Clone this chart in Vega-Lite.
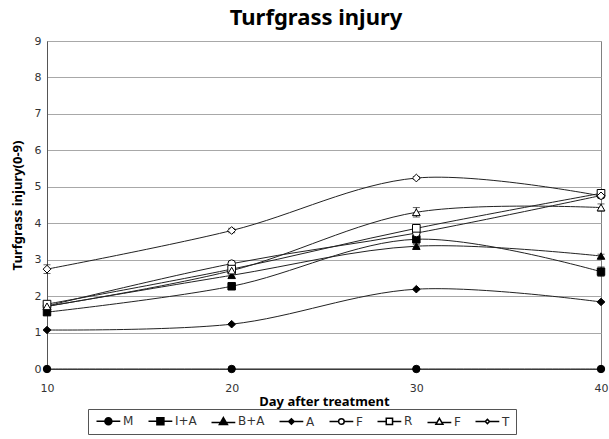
{
  "$schema": "https://vega.github.io/schema/vega-lite/v6.json",
  "autosize": {"type": "none"},
  "width": 554,
  "height": 328,
  "padding": {"left": 47, "top": 41, "right": 8, "bottom": 70},
  "background": "white",
  "title": {"text": "Turfgrass injury", "fontSize": 22, "font": "Noto Sans", "fontWeight": "bold", "color": "black", "anchor": "middle", "offset": 5, "dx": -8},
  "config": {
    "view": {"stroke": "#808080", "strokeWidth": 1},
    "font": "Noto Sans",
    "axis": {"labelFont": "DejaVu Sans", "labelColor": "#333333", "labelFontSize": 11, "titleFont": "Noto Sans", "titleFontWeight": "bold", "titleFontSize": 13, "titleColor": "black", "domainColor": "#555555", "tickColor": "#555555"},
    "legend": {"orient": "none", "legendX": 41, "legendY": 368, "direction": "horizontal", "columns": 8, "columnPadding": 11, "symbolSize": 49, "symbolOffset": 0, "labelOffset": 17, "labelFontSize": 12, "labelFont": "DejaVu Sans", "labelColor": "#333333", "strokeColor": "#555555", "padding": 6}
  },
  "data": {"values": [
    {"series": "M", "day": 10, "value": 0, "err": 0},
    {"series": "M", "day": 20, "value": 0, "err": 0},
    {"series": "M", "day": 30, "value": 0, "err": 0},
    {"series": "M", "day": 40, "value": 0, "err": 0},
    {"series": "I+A", "day": 10, "value": 1.56, "err": 0.08},
    {"series": "I+A", "day": 20, "value": 2.27, "err": 0.08},
    {"series": "I+A", "day": 30, "value": 3.56, "err": 0.1},
    {"series": "I+A", "day": 40, "value": 2.67, "err": 0.13},
    {"series": "B+A", "day": 10, "value": 1.72, "err": 0.05},
    {"series": "B+A", "day": 20, "value": 2.57, "err": 0.05},
    {"series": "B+A", "day": 30, "value": 3.37, "err": 0.05},
    {"series": "B+A", "day": 40, "value": 3.1, "err": 0.05},
    {"series": "A", "day": 10, "value": 1.07, "err": 0.02},
    {"series": "A", "day": 20, "value": 1.23, "err": 0.02},
    {"series": "A", "day": 30, "value": 2.19, "err": 0.02},
    {"series": "A", "day": 40, "value": 1.84, "err": 0.02},
    {"series": "F1", "day": 10, "value": 1.73, "err": 0.05},
    {"series": "F1", "day": 20, "value": 2.89, "err": 0.05},
    {"series": "F1", "day": 30, "value": 3.73, "err": 0.06},
    {"series": "F1", "day": 40, "value": 4.76, "err": 0.06},
    {"series": "R", "day": 10, "value": 1.78, "err": 0.08},
    {"series": "R", "day": 20, "value": 2.74, "err": 0.08},
    {"series": "R", "day": 30, "value": 3.86, "err": 0.1},
    {"series": "R", "day": 40, "value": 4.82, "err": 0.08},
    {"series": "F2", "day": 10, "value": 1.72, "err": 0.05},
    {"series": "F2", "day": 20, "value": 2.7, "err": 0.05},
    {"series": "F2", "day": 30, "value": 4.3, "err": 0.13},
    {"series": "F2", "day": 40, "value": 4.43, "err": 0.1},
    {"series": "T", "day": 10, "value": 2.74, "err": 0.12},
    {"series": "T", "day": 20, "value": 3.8, "err": 0.06},
    {"series": "T", "day": 30, "value": 5.24, "err": 0.04},
    {"series": "T", "day": 40, "value": 4.75, "err": 0.05}
  ]},
  "encoding": {
    "x": {"field": "day", "type": "quantitative", "scale": {"domain": [10, 40], "nice": false, "zero": false}, "axis": {"values": [10, 20, 30, 40], "grid": false, "title": "Day after treatment", "titlePadding": 2, "labelPadding": 13, "labelFlush": false, "tickSize": 0, "domainColor": "#555555"}},
    "y": {"field": "value", "type": "quantitative", "scale": {"domain": [0, 9], "nice": false}, "axis": {"values": [0, 1, 2, 3, 4, 5, 6, 7, 8, 9], "grid": true, "gridColor": "#a8a8a8", "title": "Turfgrass injury(0-9)", "titlePadding": 10, "labelPadding": 6, "tickSize": 0}}
  },
  "layer": [
    {"mark": {"type": "line", "interpolate": "catmull-rom", "color": "#222222", "strokeWidth": 1}, "encoding": {"detail": {"field": "series"}}},
    {"mark": {"type": "errorbar", "ticks": {"size": 7}, "color": "#222222", "thickness": 1}, "encoding": {"yError": {"field": "err"}, "detail": {"field": "series"}}},
    {"mark": {"type": "point", "filled": true, "stroke": "black", "strokeWidth": 1, "opacity": 1},
     "encoding": {
       "shape": {"field": "series", "type": "nominal", "scale": {"domain": ["M", "I+A", "B+A", "A", "F1", "R", "F2", "T"], "range": ["circle", "square", "triangle-up", "diamond", "circle", "square", "triangle-up", "diamond"]}, "legend": null},
       "fill": {"field": "series", "type": "nominal", "scale": {"domain": ["M", "I+A", "B+A", "A", "F1", "R", "F2", "T"], "range": ["black", "black", "black", "black", "white", "white", "white", "white"]}, "legend": null},
       "size": {"field": "series", "type": "nominal", "scale": {"domain": ["M", "I+A", "B+A", "A", "F1", "R", "F2", "T"], "range": [55, 60, 60, 30, 45, 45, 50, 25]}, "legend": null}
     }},
    {"mark": {"type": "point", "filled": true, "fill": "white", "stroke": "black", "strokeWidth": 1, "opacity": 0, "size": 49},
     "encoding": {
       "shape": {"field": "series", "type": "nominal", "scale": {"domain": ["M", "I+A", "B+A", "A", "F1", "R", "F2", "T"], "range": [
         "M-1,0H5.8M1.4,0A1,1,0,1,1,3.4,0A1,1,0,1,1,1.4,0ZM1.65,0A0.75,0.75,0,1,1,3.15,0A0.75,0.75,0,1,1,1.65,0ZM1.9,0A0.5,0.5,0,1,1,2.9,0A0.5,0.5,0,1,1,1.9,0ZM2.15,0A0.25,0.25,0,1,1,2.65,0A0.25,0.25,0,1,1,2.15,0Z",
         "M-1,0H5.8M1.4,-1H3.4V1H1.4ZM1.65,-0.75H3.15V0.75H1.65ZM1.9,-0.5H2.9V0.5H1.9ZM2.15,-0.25H2.65V0.25H2.15Z",
         "M-1,0.3H5.8M2.4,-1.1L3.55,0.9H1.25ZM2.4,-0.767L3.2625,0.733H1.5375ZM2.4,-0.433L2.975,0.567H1.825ZM2.4,-0.1L2.6875,0.4H2.1125Z",
         "M-1,0H5.8M2.4,-0.8L3.2,0L2.4,0.8L1.6,0ZM2.4,-0.55L2.95,0L2.4,0.55L1.85,0ZM2.4,-0.3L2.7,0L2.4,0.3L2.1,0Z",
         "M-1,0H1.6M3.2,0H5.8M1.6,0A0.8,0.8,0,1,1,3.2,0A0.8,0.8,0,1,1,1.6,0Z",
         "M-1,0H1.5M3.3,0H5.8M1.5,-0.9H3.3V0.9H1.5Z",
         "M-1,0.3H1.75M3.05,0.3H5.8M2.4,-0.9L3.4,0.8H1.4Z",
         "M-1,0H1.8M3,0H5.8M2.4,-0.6L3,0L2.4,0.6L1.8,0Z"]},
         "legend": {"title": null, "labelExpr": "datum.label == 'F1' || datum.label == 'F2' ? 'F' : datum.label",
           "encode": {"symbols": {"update": {"stroke": {"value": "black"}, "strokeWidth": {"value": 1}, "opacity": {"value": 1}}}}}}
     }}
  ],
  "resolve": {"scale": {"shape": "independent"}}
}
